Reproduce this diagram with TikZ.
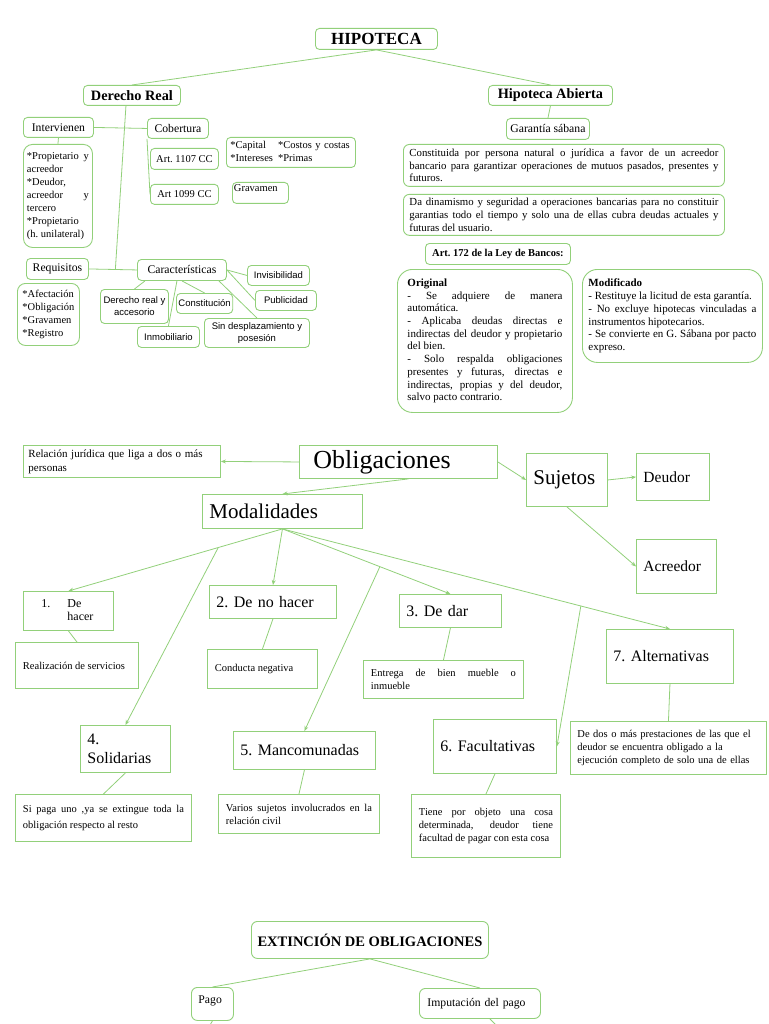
\documentclass[tikz,border=0pt]{standalone}
\usepackage{fontspec}
\setmainfont{Liberation Serif}
\newfontfamily\arialfont{Liberation Sans}
\usetikzlibrary{arrows.meta,positioning,calc}
\definecolor{lgreen}{RGB}{146,208,122}
\newcommand{\fsz}[2]{\fontsize{#1}{#2}\selectfont}
\hyphenpenalty=10000
\exhyphenpenalty=10000
\tolerance=10000
\hbadness=10000
\tikzset{
  rbox/.style={
    draw=lgreen, line width=0.9pt, rounded corners=4pt, anchor=north west,
    align=center, inner sep=2pt, font=\fsz{11.7}{13}
  },
  sbox/.style={
    draw=lgreen, line width=0.9pt, anchor=north west, align=left,
    inner xsep=7pt, inner ysep=2pt, font=\fsz{16}{18}
  },
  txt/.style={sbox, align=justify, inner xsep=7.5pt, font=\fsz{10.5}{13}},
  sans/.style={rbox, font=\arialfont\fsz{9.5}{12}},
  lnk/.style={draw=lgreen, line width=0.8pt},
  arr/.style={lnk, -{Stealth[length=5pt,width=4pt]}}
}

\begin{document}
\begin{tikzpicture}[x=1pt, y=-1pt]
  \useasboundingbox (0,0) rectangle (768,1024);

  % --- hipoteca --------------------------------------------------------
  \node[rbox, font=\bfseries\fsz{17}{19}, minimum width=122pt, minimum height=21pt] (hip) at (315,28) {HIPOTECA};
  \node[rbox, font=\bfseries\fsz{14.3}{16}, minimum width=97pt, minimum height=20pt] (dreal) at (83,85) {Derecho Real};
  \node[rbox, font=\bfseries\fsz{14.3}{16}, minimum width=124pt, minimum height=20pt] (habi) at (488,85) {Hipoteca Abierta};

  \draw[lnk] (hip.south) -- (dreal.north);
  \draw[lnk] (hip.south) -- (habi.north);

  % --- derecho real ------------------------------------------------------
  \node[rbox, minimum width=70pt, minimum height=20pt] (interv) at (23,117) {Intervienen};
  \node[rbox, minimum width=61pt, minimum height=20pt] (cob) at (147,118) {Cobertura};
  \node[rbox, rounded corners=9pt, align=justify, text width=62pt, inner xsep=3.5pt, inner ysep=4pt,
        font=\fsz{10.5}{13}, minimum height=103pt] (intl) at (23,144)
        {*Propietario y acreedor\\{}*Deudor, acreedor y tercero\\{}*Propietario (h.~unilateral)};
  \node[rbox, font=\fsz{10.5}{12}, minimum width=68pt, minimum height=21pt] (a1107) at (150,148) {Art.\ 1107 CC};
  \node[rbox, font=\fsz{10.5}{12}, minimum width=68pt, minimum height=20pt,
        below=14pt of a1107.south west, anchor=north west] (a1099) {Art 1099 CC};
  \node[rbox, font=\fsz{10.5}{13}, align=left, text width=121pt, minimum height=30pt, inner xsep=4pt] (capi) at (226,137)
        {\begin{tabular}{@{}l@{\hspace{5pt}}l@{}}*Capital & *Costos y costas\\{}*Intereses & *Primas\end{tabular}};
  \node[rbox, font=\fsz{10.5}{12}, align=left, text width=53pt, inner xsep=1.5pt, inner ysep=1pt,
        text height=8pt, text depth=11pt] (grav) at (232,182) {Gravamen};

  \node[rbox, minimum width=62pt, minimum height=21pt] (req) at (26,258) {Requisitos};
  \node[rbox, rounded corners=8pt, align=left, font=\fsz{10.5}{12.9}, minimum width=62pt,
        minimum height=62pt, inner xsep=5pt] (reql) at (17,283) {*Afectación\\{}*Obligación\\{}*Gravamen\\{}*Registro};
  \node[rbox, minimum width=89pt, minimum height=21pt] (car) at (137,259) {Características};
  \node[sans, minimum width=62pt, minimum height=20pt] (inv) at (247,265) {Invisibilidad};
  \node[sans, minimum width=61pt, minimum height=20pt] (pub) at (255,290) {Publicidad};
  \node[sans, minimum width=105pt, minimum height=29pt] (sin) at (204,318) {Sin desplazamiento y\\posesión};
  \node[sans, minimum width=68pt, minimum height=34pt] (dra) at (100,289) {Derecho real y\\accesorio};
  \node[sans, minimum width=56pt, minimum height=20pt] (cons) at (176,293) {Constitución};
  \node[sans, minimum width=62pt, minimum height=21pt] (inm) at (137,326) {Inmobiliario};

  \coordinate (rc) at ($(req.east)!0.55!(car.west)$);
  \draw[lnk] (interv.east) -- (cob.west);
  \draw[lnk] (interv.south) -- (intl.north);
  \draw[lnk] (cob.south west) -- (a1099.west);
  \draw[lnk] ([xshift=-6pt]dreal.south) -- (rc);
  \draw[lnk] (req.east) -- (car.west);
  \draw[lnk] (car.east) -- (inv.west);
  \draw[lnk] (car.east) -- (pub.west);
  \draw[lnk] ([xshift=-8pt]car.south east) -- (sin.north);
  \draw[lnk] ([xshift=8pt]car.south west) -- (dra.north);
  \draw[lnk] (car.south) -- (cons.north);
  \draw[lnk] ([xshift=-5pt]car.south) -- (inm.north);

  % --- hipoteca abierta --------------------------------------------------
  \node[rbox, minimum width=83pt, minimum height=21pt] (gar) at (506,118) {Garantía sábana};
  \node[rbox, rounded corners=6pt, align=justify, text width=309pt, inner xsep=6pt, inner ysep=3pt,
        font=\fsz{10.8}{12.7}, minimum height=42pt] (const) at (403,144)
        {Constituida por persona natural o jurídica a favor de un acreedor\linebreak bancario para garantizar operaciones de mutuos pasados, presentes y\linebreak futuros.};
  \node[rbox, rounded corners=6pt, align=justify, text width=309pt, inner xsep=6pt, inner ysep=3pt,
        font=\fsz{10.8}{12.7}, minimum height=41pt, below=7pt of const.south west, anchor=north west] (dina)
        {Da dinamismo y seguridad a operaciones bancarias para no constituir garantias todo el tiempo y solo una de ellas cubra deudas actuales y futuras del usuario.};
  \node[rbox, font=\bfseries\fsz{10.5}{12}, minimum width=145pt, minimum height=21pt] (art) at (425,243) {Art.\ 172 de la Ley de Bancos:};
  \node[rbox, rounded corners=15pt, align=justify, text width=155pt, inner xsep=10pt, inner ysep=6pt,
        font=\fsz{11}{12.7}, minimum height=143pt] (orig) at (397,269)
        {\textbf{Original}\\- Se adquiere de manera automática.\\- Aplicaba deudas directas e indirectas del deudor y propietario del bien.\\- Solo respalda obligaciones presentes y futuras, directas e indirectas, propias y del deudor, salvo pacto contrario.};
  \node[rbox, rounded corners=15pt, align=justify, text width=168pt, inner xsep=6pt, inner ysep=6pt,
        font=\fsz{11}{12.8}, minimum height=93pt] (modif) at (582,269)
        {\textbf{Modificado}\\- Restituye la licitud de esta garantía.\\- No excluye hipotecas vinculadas a instrumentos hipotecarios.\\- Se convierte en G.~Sábana por pacto expreso.};

  \draw[lnk] (habi.south) -- (gar.north);

  % --- obligaciones ------------------------------------------------------
  \node[sbox, font=\fsz{26}{28}, text width=170pt, inner xsep=14pt, minimum height=33pt] (obl) at (299,445) {Obligaciones};
  \node[sbox, font=\fsz{11}{14}, text width=187pt, inner xsep=5pt, minimum height=32pt] (rel) at (23,445) {Relación jurídica que liga a dos o más\\personas};
  \node[sbox, font=\fsz{21}{23}, text width=67pt, minimum height=53pt] (suj) at (526,453) {Sujetos};
  \node[sbox, font=\fsz{15.5}{17}, text width=59pt, minimum height=47pt] (deu) at (636,453) {Deudor};
  \node[sbox, font=\fsz{15.5}{17}, text width=66pt, minimum height=54pt] (acr) at (636,539) {Acreedor};
  \node[sbox, font=\fsz{21}{23}, text width=146pt, minimum height=34pt] (moda) at (202,494) {Modalidades};

  \draw[arr] (obl.west) -- (rel.east);
  \draw[arr] (obl.east) -- (suj.west);
  \draw[arr] (suj.east) -- (deu.west);
  \draw[arr] (suj.south) -- (acr.west);
  \draw[arr] ([xshift=10pt]obl.south) -- (moda.north);

  % --- modalidades -------------------------------------------------------
  \node[sbox, font=\fsz{12}{13}, text width=76pt, minimum height=39pt] (hacer) at (23,591)
        {\begin{tabular}{@{\hspace{11pt}}l@{\hspace{17pt}}l@{}}1. & De\\ & hacer\end{tabular}};
  \node[sbox, text width=113pt, minimum height=33pt] (nohacer) at (209,585) {2.\ De no hacer};
  \node[sbox, text width=88pt, minimum height=33pt] (dar) at (399,594) {3.\ De dar};
  \node[sbox, text width=113pt, minimum height=54pt] (alt) at (606,629) {7.\ Alternativas};
  \node[sbox, font=\fsz{16}{19}, text width=76pt, minimum height=47pt] (sol) at (80,725) {4.\\Solidarias};
  \node[sbox, text width=128pt, minimum height=38pt] (man) at (233,731) {5.\ Mancomunadas};
  \node[sbox, text width=109pt, minimum height=54pt] (fac) at (433,719) {6.\ Facultativas};

  \node[txt, text width=108pt, minimum height=46pt] (real) at (15,642) {Realización de servicios};
  \node[txt, text width=95pt, minimum height=39pt] (cond) at (207,649) {Conducta negativa};
  \node[txt, text width=145pt, minimum height=38pt] (ent) at (363,660) {Entrega de bien mueble o\linebreak inmueble};
  \node[txt, align=left, text width=182pt, inner xsep=7pt, minimum height=53pt] (dos) at (570,721)
        {De dos o más prestaciones de las que el\\deudor se encuentra obligado a la\\ejecución completo de solo una de ellas};
  \node[txt, font=\fsz{10.5}{16}, text width=161pt, minimum height=47pt] (sipaga) at (15,794)
        {Si paga uno ,ya se extingue toda la\linebreak obligación respecto al resto};
  \node[txt, text width=146pt, minimum height=39pt] (var) at (218,794) {Varios sujetos involucrados en la\linebreak relación civil};
  \node[txt, text width=134pt, minimum height=63pt] (tiene) at (411,794)
        {Tiene por objeto una cosa\linebreak determinada, deudor tiene\linebreak facultad de pagar con esta cosa};

  \coordinate (b1) at ($(moda.south)!0.3!(hacer.north)$);
  \coordinate (b2) at ($(moda.south)!0.58!(dar.north)$);
  \coordinate (b3) at ($(moda.south)!0.77!(alt.north)$);

  \draw[arr] (moda.south) -- (hacer.north);
  \draw[arr] (moda.south) -- (nohacer.north);
  \draw[arr] (moda.south) -- (dar.north);
  \draw[arr] (moda.south) -- (alt.north);
  \draw[arr] (b1) -- (sol.north);
  \draw[arr] (b2) -- (man.north);
  \draw[arr] (b3) -- (fac.east);

  \draw[lnk] (hacer.south) -- (real.north);
  \draw[lnk] (nohacer.south) -- (cond.north);
  \draw[lnk] (dar.south) -- (ent.north);
  \draw[lnk] (alt.south) -- (dos.north);
  \draw[lnk] (sol.south) -- (sipaga.north);
  \draw[lnk] (man.south) -- (var.north);
  \draw[lnk] (fac.south) -- (tiene.north);

  % --- extincion ---------------------------------------------------------
  \node[rbox, rounded corners=6pt, font=\bfseries\fsz{14.5}{16}, minimum width=237pt, minimum height=37pt] (ext) at (251,921) {EXTINCIÓN DE OBLIGACIONES};
  \node[rbox, rounded corners=6pt, align=left, text width=28pt, inner xsep=7pt, inner ysep=3pt,
        text height=13pt, text depth=14pt] (pago) at (191,987) {Pago};
  \node[rbox, rounded corners=6pt, align=left, text width=105pt, inner xsep=8pt, minimum height=30pt] (imp) at (419,988) {Imputación del pago};

  \coordinate (pagoend) at (210,1025);
  \coordinate (impend) at (496,1025);
  \draw[lnk] (ext.south) -- (pago.north);
  \draw[lnk] (ext.south) -- (imp.north);
  \draw[lnk] (pago.south) -- (pagoend);
  \draw[lnk] ([xshift=10pt]imp.south) -- (impend);
\end{tikzpicture}
\end{document}
